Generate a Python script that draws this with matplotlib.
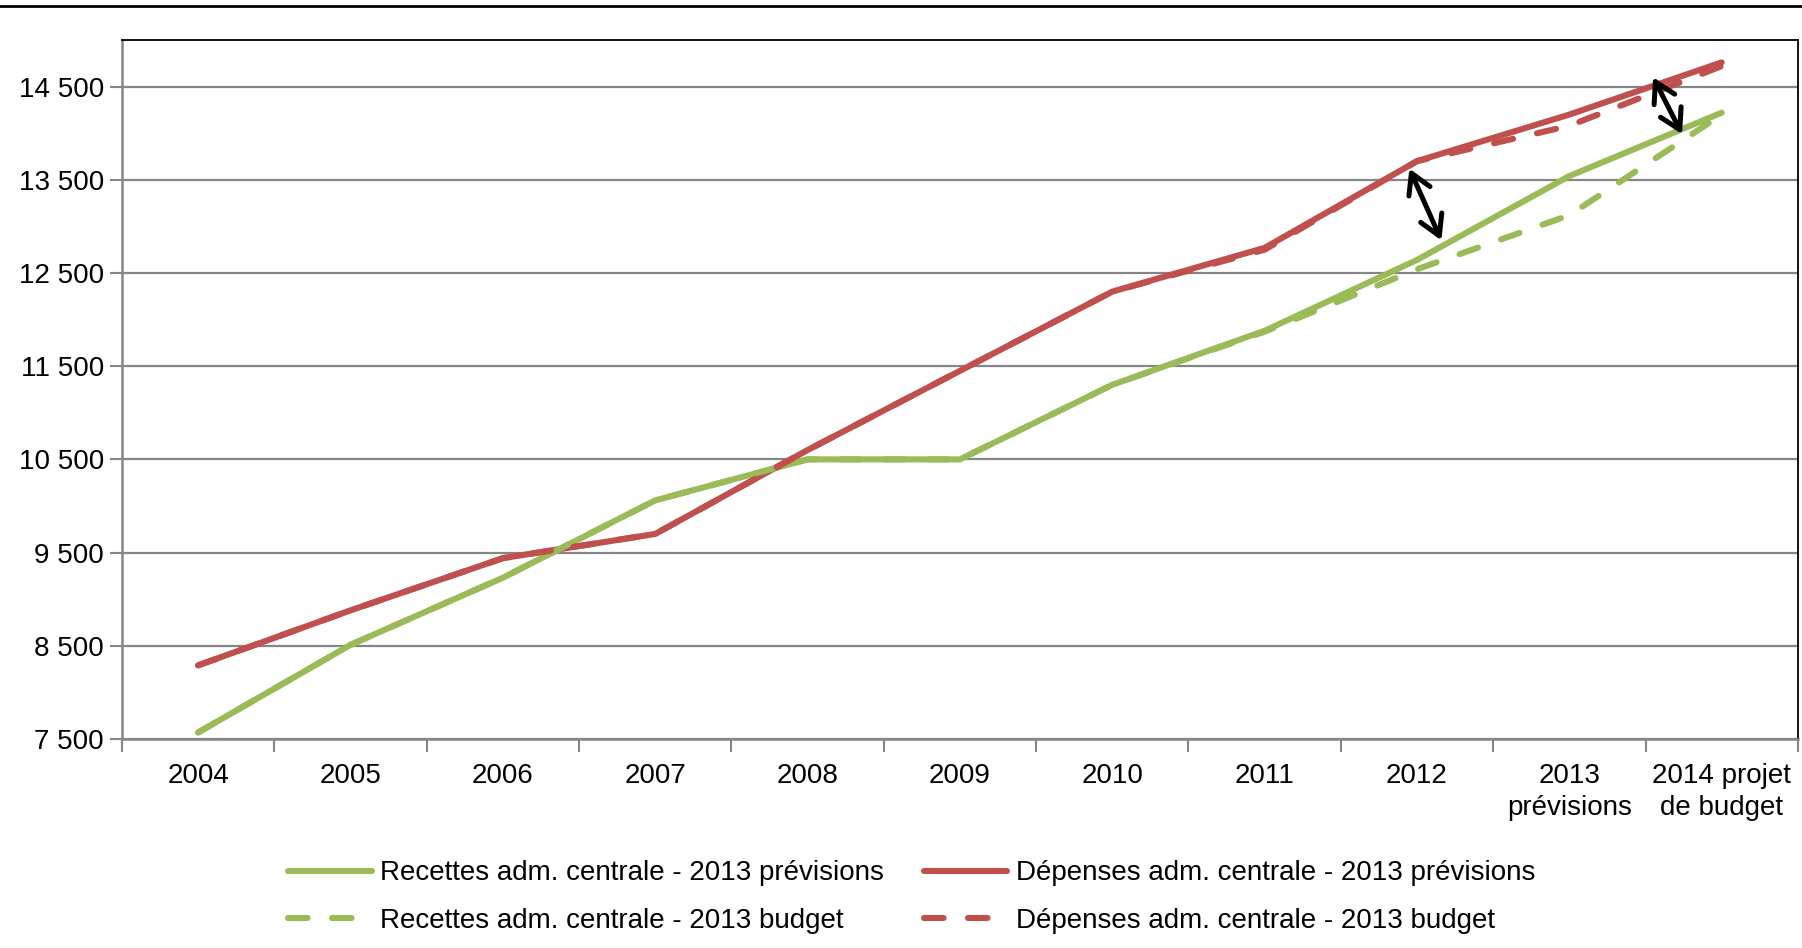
import matplotlib
matplotlib.use("Agg")
import matplotlib.pyplot as plt
from matplotlib.lines import Line2D
from matplotlib.ticker import FixedLocator, FuncFormatter

plt.rcParams["font.family"] = ["Liberation Sans", "DejaVu Sans"]

GREEN = "#9BBB59"
RED = "#C0504D"
GRID = "#868686"

years = ["2004", "2005", "2006", "2007", "2008", "2009", "2010", "2011",
         "2012", "2013\nprévisions", "2014 projet\nde budget"]
recettes_prev = [7570, 8510, 9230, 10060, 10500, 10500, 11300, 11880,
                 12640, 13540, 14220]
depenses_prev = [8290, 8880, 9440, 9700, 10600, 11450, 12300, 12770,
                 13700, 14200, 14760]
recettes_budget = [7570, 8510, 9230, 10060, 10500, 10500, 11300, 11870,
                   12540, 13120, 14200]
depenses_budget = [8290, 8880, 9440, 9700, 10600, 11450, 12300, 12750,
                   13700, 14080, 14720]
y_ticks = [7500, 8500, 9500, 10500, 11500, 12500, 13500, 14500]

# gap arrows between spending and revenue (x in category units)
gap_arrows = [((7.95, 13620), (8.16, 12850)),
              ((9.55, 14600), (9.74, 13990))]

FS = 20

fig = plt.figure(figsize=(18.02, 9.48), dpi=100)
ax = fig.add_axes([0.0677, 0.2205, 0.930, 0.7373])

x = list(range(len(years)))
lw = 4.4
dash = (3.2, 4.0)
ax.plot(x, recettes_prev, color=GREEN, lw=lw, solid_capstyle="round",
        solid_joinstyle="round", label="Recettes adm. centrale - 2013 prévisions", zorder=3)
ax.plot(x, recettes_budget, color=GREEN, lw=lw, dashes=dash,
        dash_capstyle="round", label="Recettes adm. centrale - 2013 budget", zorder=4)
ax.plot(x, depenses_prev, color=RED, lw=lw, solid_capstyle="round",
        solid_joinstyle="round", label="Dépenses adm. centrale - 2013 prévisions", zorder=3)
ax.plot(x, depenses_budget, color=RED, lw=lw, dashes=dash,
        dash_capstyle="round", label="Dépenses adm. centrale - 2013 budget", zorder=4)

for start, end in gap_arrows:
    ax.annotate("", xy=end, xytext=start,
                arrowprops=dict(arrowstyle="<->,head_length=0.55,head_width=0.32",
                                color="black", lw=3.6, mutation_scale=26,
                                shrinkA=0, shrinkB=0), zorder=6)

ax.set_xlim(-0.5, len(years) - 0.5)
ax.set_ylim(7500, 15000)
ax.yaxis.set_major_locator(FixedLocator(y_ticks))
ax.yaxis.set_major_formatter(FuncFormatter(lambda v, p: f"{int(v):,}".replace(",", " ")))
ax.grid(axis="y", color=GRID, lw=1.6, zorder=1)
ax.set_axisbelow(True)

ax.set_xticks([i - 0.5 for i in range(len(years) + 1)])
ax.set_xticklabels([])
ax.set_xticks(x, minor=True)
ax.set_xticklabels(years, minor=True, fontsize=FS, linespacing=1.3)
ax.tick_params(axis="x", which="major", length=9, width=1.5, color=GRID, direction="out")
ax.tick_params(axis="x", which="minor", length=0, pad=17)
ax.tick_params(axis="y", length=9, width=1.5, color=GRID, labelsize=FS, pad=4)

for side in ("left", "bottom"):
    ax.spines[side].set_color(GRID)
    ax.spines[side].set_linewidth(1.8)
for side in ("top", "right"):
    ax.spines[side].set_color("black")
    ax.spines[side].set_linewidth(1.3)

fig.add_artist(Line2D([0, 1], [0.9937, 0.9937], color="black", lw=2))

fig.legend(loc="upper left", bbox_to_anchor=(0.160, 0.0925), ncol=2, frameon=False,
           fontsize=FS, handlelength=3.0, handletextpad=0.3, columnspacing=1.45,
           labelspacing=0.78, borderpad=0, borderaxespad=0)

fig.savefig("out.png", dpi=100)
